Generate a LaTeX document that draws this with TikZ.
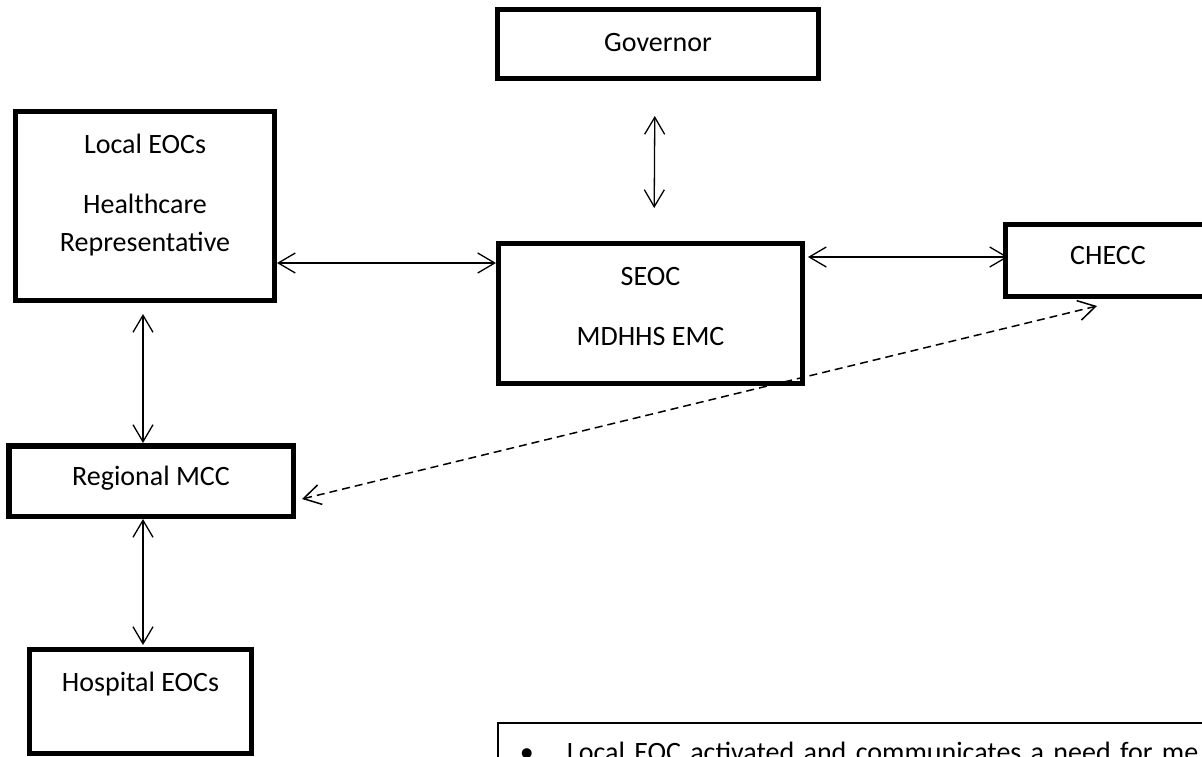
\documentclass[tikz,border=0pt]{standalone}
\usepackage{fontspec}
\setmainfont{Carlito}
\usetikzlibrary{arrows.meta}
\begin{document}
\begin{tikzpicture}[x=1pt,y=-1pt,
  box/.style={draw, line width=5pt, inner sep=0pt, font=\fontsize{28}{38}\selectfont},
  notebox/.style={draw, line width=1.5pt, inner xsep=22pt, inner ysep=0pt,
    text width=800pt, align=left, text height=38.25pt, text depth=40pt,
    font=\fontsize{28}{38}\selectfont, anchor=north west},
  tip/.style={Straight Barb[length=17pt,width=20pt]},
  link/.style={line width=1.3pt, arrows={Straight Barb[length=17pt,width=20pt]-Straight Barb[length=17pt,width=20pt]}},
  dlink/.style={link, line width=1.5pt, dash pattern=on 8pt off 5pt}]
\useasboundingbox (0,0) rectangle (1202,756);
\fill[white] (0,0) rectangle (1202,756);
\clip (0,0) rectangle (1202,756);

\node[box, minimum width=321pt, minimum height=69pt] (gov) at (658,44)
  {\begin{tabular}{@{}c@{}}Governor\end{tabular}};
\node[box, minimum width=259pt, minimum height=189pt] (local) at (145,206)
  {\begin{tabular}{@{}c@{}}Local EOCs\\[22pt]Healthcare\\Representative\\[22pt]\end{tabular}};
\node[box, minimum width=304pt, minimum height=140pt] (seoc) at (650.5,313.5)
  {\begin{tabular}{@{}c@{}}SEOC\\[22pt]MDHHS EMC\\[12pt]\end{tabular}};
\node[box, minimum width=205pt, minimum height=72pt] (checc) at (1108,260.5)
  {\begin{tabular}{@{}c@{}}CHECC\\[8pt]\end{tabular}};
\node[box, line width=5.5pt, minimum width=284.5pt, minimum height=70.5pt] (regional) at (151,481)
  {\begin{tabular}{@{}c@{}}Regional MCC\\[7pt]\end{tabular}};
\node[box, minimum width=222pt, minimum height=104pt] (hospital) at (140.5,701.5)
  {\begin{tabular}{@{}c@{}}Hospital EOCs\\[36pt]\end{tabular}};
\node[notebox] (note) at (497,722)
  {\makebox[47.25pt][l]{\textbullet}Local EOC activated and communicates a need for me};

\draw[link, shorten <=35pt, shorten >=33pt] ([xshift=-3pt]gov.south) -- ([xshift=3.5pt]seoc.north);
\draw[link] ([yshift=-57pt]local.east) -- ([yshift=50.5pt]seoc.west);
\draw[link, shorten <=3pt, shorten >=-5pt] ([yshift=56.5pt]seoc.east) -- ([yshift=3.5pt]checc.west);
\draw[link, shorten <=11pt] ([xshift=-2pt]local.south) -- ([xshift=-8pt]regional.north);
\draw[link, shorten >=2pt] ([xshift=-8pt]regional.south) -- ([xshift=2.5pt]hospital.north);
\draw[dlink] ([xshift=6pt,yshift=-18pt]regional.east) -- ([xshift=-11pt,yshift=-7pt]checc.south);
\end{tikzpicture}
\end{document}
